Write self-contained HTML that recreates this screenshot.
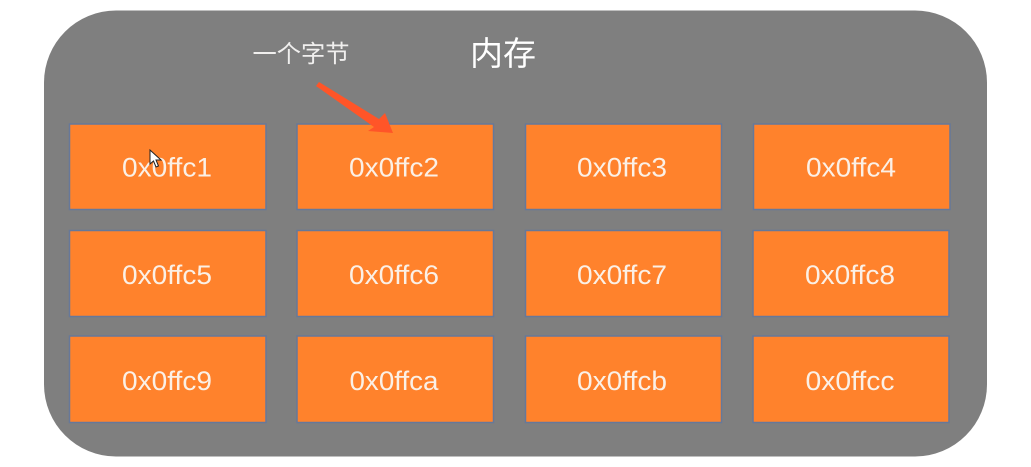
<!DOCTYPE html>
<html>
<head>
<meta charset="utf-8">
<style>
html,body{margin:0;padding:0;background:#fff}
svg{display:block;filter:blur(.35px)}
text{font-family:"Liberation Sans","Noto Sans CJK SC",sans-serif;fill:#fbf0e6;text-anchor:middle}
.b{fill:#ff822c;stroke:#66789a;stroke-width:1.5}
.t{font-size:27px}
</style>
</head>
<body>
<svg width="1031" height="467" viewBox="0 0 1031 467" xmlns="http://www.w3.org/2000/svg">
<rect x="44" y="10.5" width="943" height="446" rx="72" ry="72" fill="#7f7f7f"/>
<rect class="b" x="69.500" y="124" width="196.500" height="85.500"/>
<rect class="b" x="297" y="124" width="196.500" height="85.500"/>
<rect class="b" x="525.500" y="124" width="196" height="85.500"/>
<rect class="b" x="753.500" y="124" width="196.500" height="85.500"/>
<rect class="b" x="69.500" y="230.500" width="196.500" height="86"/>
<rect class="b" x="297" y="230.500" width="196.500" height="86"/>
<rect class="b" x="525.500" y="230.500" width="196" height="86"/>
<rect class="b" x="753" y="230.500" width="196" height="86"/>
<rect class="b" x="69.500" y="336" width="196.500" height="86.500"/>
<rect class="b" x="297" y="336" width="196.500" height="86.500"/>
<rect class="b" x="525.500" y="336" width="196" height="86.500"/>
<rect class="b" x="753" y="336" width="196" height="86.500"/>
<text class="t" x="167" y="176.500" textLength="90" lengthAdjust="spacingAndGlyphs">0x0ffc1</text>
<text class="t" x="394" y="176.500" textLength="90" lengthAdjust="spacingAndGlyphs">0x0ffc2</text>
<text class="t" x="622" y="176.500" textLength="90" lengthAdjust="spacingAndGlyphs">0x0ffc3</text>
<text class="t" x="851" y="176.500" textLength="90" lengthAdjust="spacingAndGlyphs">0x0ffc4</text>
<text class="t" x="167" y="284" textLength="90" lengthAdjust="spacingAndGlyphs">0x0ffc5</text>
<text class="t" x="394" y="284" textLength="90" lengthAdjust="spacingAndGlyphs">0x0ffc6</text>
<text class="t" x="622" y="284" textLength="90" lengthAdjust="spacingAndGlyphs">0x0ffc7</text>
<text class="t" x="850" y="284" textLength="90" lengthAdjust="spacingAndGlyphs">0x0ffc8</text>
<text class="t" x="167" y="390" textLength="90" lengthAdjust="spacingAndGlyphs">0x0ffc9</text>
<text class="t" x="394" y="390" textLength="89" lengthAdjust="spacingAndGlyphs">0x0ffca</text>
<text class="t" x="622" y="390" textLength="90" lengthAdjust="spacingAndGlyphs">0x0ffcb</text>
<text class="t" x="850" y="390" textLength="89" lengthAdjust="spacingAndGlyphs">0x0ffcc</text>
<text x="301" y="62" font-size="24" textLength="97" lengthAdjust="spacingAndGlyphs" style="fill:#f0efee">一个字节</text>
<text x="503" y="65" font-size="33" style="fill:#ffffff">内存</text>
<polygon points="319,82 316,86 374,127 368,131 393,133 385,113 379,119" fill="#ff5528"/>
<polygon points="150,150 150,164 153.500,161 156,167 158.500,166 156,160 161,160" fill="#fff" stroke="#222" stroke-width="1"/>
</svg>
</body>
</html>
